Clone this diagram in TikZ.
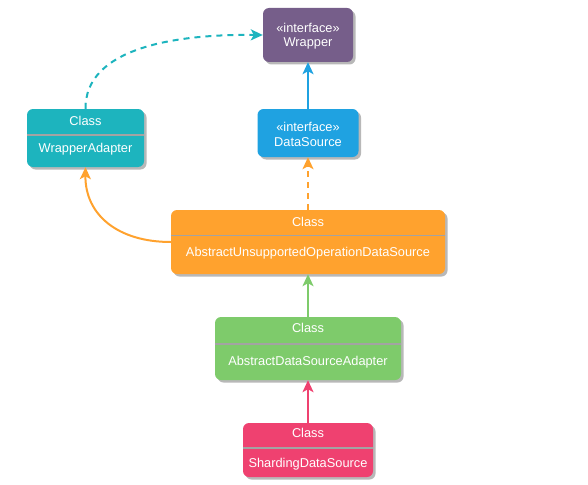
\documentclass[tikz,border=0pt]{standalone}
\usepackage{fontspec}
\setmainfont{Liberation Sans}
\usepackage{xcolor}
\usetikzlibrary{positioning, shadows, arrows.meta}

\definecolor{wrapperpurple}{HTML}{765E8A}
\definecolor{dsblue}{HTML}{1FA2E1}
\definecolor{adapterteal}{HTML}{1DB4BE}
\definecolor{unsuporange}{HTML}{FFA22E}
\definecolor{adsagreen}{HTML}{7ECB6B}
\definecolor{shardpink}{HTML}{EF4170}
\definecolor{splitgray}{HTML}{A3A3A3}

\begin{document}
\begin{tikzpicture}[x=1pt, y=-1pt,
  classbox/.style={rounded corners=6pt, inner sep=0pt,
    drop shadow={shadow xshift=2.5pt, shadow yshift=-2.5pt, fill=black, opacity=0.28}},
  label/.style={text=white, inner sep=0pt, font=\fontsize{12.8}{15}\selectfont},
  split/.style={draw=splitgray, line width=1.3pt},
  extends/.style={-{Stealth[length=12pt, width=11pt, inset=3pt]}, line width=2pt},
  implements/.style={extends, dash pattern=on 6pt off 5pt}]
\useasboundingbox (0,0) rectangle (588,484);
\node[classbox, fill=wrapperpurple, minimum width=90pt, minimum height=54pt] (wrapper) at (308,35) {};
\node[classbox, fill=dsblue, minimum width=101pt, minimum height=48pt] (datasource) at (308,133) {};
\node[classbox, fill=adapterteal, minimum width=117pt, minimum height=58pt] (adapter) at (85.5,138) {};
\node[classbox, fill=unsuporange, minimum width=274pt, minimum height=64pt] (unsupported) at (308,242) {};
\node[classbox, fill=adsagreen, minimum width=186pt, minimum height=63pt] (adsa) at (308,348.5) {};
\node[classbox, fill=shardpink, minimum width=130pt, minimum height=54pt] (sharding) at (308,450) {};
\draw[split] (adapter.west |- 0,135) -- (adapter.east |- 0,135);
\draw[split] (unsupported.west |- 0,235.5) -- (unsupported.east |- 0,235.5);
\draw[split] (adsa.west |- 0,344) -- (adsa.east |- 0,344);
\draw[split] (sharding.west |- 0,448) -- (sharding.east |- 0,448);
\node[label] (wrapperStereo) at (308,28) {«interface»};
\node[label] (wrapperName) at (308,43) {Wrapper};
\node[label] (dsStereo) at (308,127) {«interface»};
\node[label] (dsName) at (308,142) {DataSource};
\node[label] (adapterKind) at (85.5,121) {Class};
\node[label] (adapterName) at (85.5,149) {WrapperAdapter};
\node[label] (unsupportedKind) at (308,222) {Class};
\node[label] (unsupportedName) at (308,253) {AbstractUnsupportedOperationDataSource};
\node[label] (adsaKind) at (308,328) {Class};
\node[label] (adsaName) at (308,362) {AbstractDataSourceAdapter};
\node[label] (shardingKind) at (308,433) {Class};
\node[label] (shardingName) at (308,464) {ShardingDataSource};
\draw[extends, color=dsblue] (datasource) -- (wrapper);
\draw[implements, color=unsuporange] (unsupported) -- (datasource);
\draw[extends, color=adsagreen] (adsa) -- (unsupported);
\draw[extends, color=shardpink] (sharding) -- (adsa);
\draw[extends, color=unsuporange] (unsupported.west) .. controls (118,242) and (85,215) .. (adapter.south);
\draw[implements, color=adapterteal] (adapter.north) .. controls (85,48) and (175,34) .. (wrapper.west);
\end{tikzpicture}
\end{document}
